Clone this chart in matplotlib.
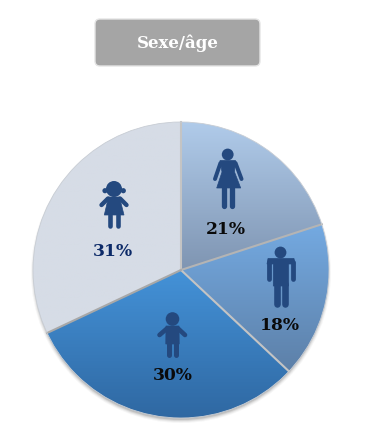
import numpy as np
import matplotlib
matplotlib.use('Agg')
import matplotlib.pyplot as plt
from matplotlib.colors import LinearSegmentedColormap
from matplotlib.patches import Circle, FancyBboxPatch, Polygon

# slices measured on the picture (the printed labels differ by a point or so)
categories = ['Femmes', 'Hommes', 'Enfants', 'Filles']
slice_shares = [20, 17, 31, 32]
value_labels = ['21%', '18%', '30%', '31%']
title_text = 'Sexe/âge'

top_colors = ['#b0cbea', '#74aae2', '#4492d8', '#d6dce6']
bottom_colors = ['#7f95b2', '#5d80a8', '#2f68a2', '#d6dce6']
label_colors = ['#0a0a0a', '#0a0a0a', '#0a0a0a', '#0c2a68']
label_pos = [(226, 229), (280, 326), (173, 375), (113, 252)]
# separator on each slice's first side
line_colors = ['#c4c4c4', '#b4b4b4', '#c4c4c4', '#a8a8a8']

W, H = 370, 438
CX, CY, R = 181, 270, 148
ICON = '#24497f'
LABEL_FONT = 'DejaVu Serif'

fig = plt.figure(figsize=(W / 100, H / 100), dpi=100)
ax = fig.add_axes([0, 0, 1, 1])

# soft shadow under the pie
for grow, alpha in [(3, 0.05), (2, 0.08), (1, 0.12), (0, 0.18)]:
    ax.add_patch(Circle((CX, CY + 3), R + grow - 1, fc='#555555', ec='none', alpha=alpha, zorder=1))

# y axis points down, so counterclock here runs clockwise on screen
wedges, _ = ax.pie(slice_shares, center=(CX, CY), radius=R, startangle=-90,
                   counterclock=True, frame=True, colors=top_colors,
                   wedgeprops={'edgecolor': 'none', 'linewidth': 0, 'zorder': 3})

for wedge, top, bottom, line in zip(wedges, top_colors, bottom_colors, line_colors):
    box = wedge.get_path().get_extents(wedge.get_patch_transform())
    cmap = LinearSegmentedColormap.from_list('slice', [top, bottom])
    grad = np.linspace(0, 1, 200).reshape(-1, 1)
    im = ax.imshow(grad, cmap=cmap, aspect='auto', zorder=2,
                   extent=(box.x0, box.x1, box.y1, box.y0))
    im.set_clip_path(wedge)
    wedge.set_facecolor('none')
    a = np.deg2rad(wedge.theta1)
    ax.plot([CX, CX + R * np.cos(a)], [CY, CY + R * np.sin(a)], color=line, lw=1.5, zorder=3)

# thin pale rim around the pie
ax.add_patch(Circle((CX, CY), R, fc='none', ec='#c8cdd4', lw=0.6, zorder=3))


def limb(x0, y0, x1, y1, width):
    ax.plot([x0, x1], [y0, y1], color=ICON, lw=width * 0.72, solid_capstyle='round', zorder=4)


def shape(points):
    ax.add_patch(Polygon(points, closed=True, fc=ICON, ec=ICON, lw=0.5, zorder=4))


def head(x, y, r):
    ax.add_patch(Circle((x, y), r, fc=ICON, ec='none', zorder=4))


# woman
head(227.7, 154.5, 5.9)
shape([(220, 160.5), (235.5, 160.5), (234.5, 172), (240.7, 188), (216.7, 188), (222, 172)])
limb(220.5, 163, 215, 179, 4)
limb(235.5, 163, 241.5, 179, 4)
limb(224.3, 188, 224.3, 206, 5.3)
limb(232.3, 188, 232.3, 206, 5.3)

# man
head(280.5, 252.5, 5.9)
shape([(268, 258.5), (294, 258.5), (295, 264), (288.5, 264), (288.5, 286), (273.3, 286), (273.3, 264), (267, 264)])
limb(269.2, 262, 269.2, 278.5, 4.8)
limb(292.6, 262, 292.6, 278.5, 4.8)
limb(276.7, 284, 276.7, 303.5, 6.6)
limb(285, 284, 285, 303.5, 6.6)

# boy
head(172.5, 319, 6.8)
shape([(166, 326), (179, 326), (179.2, 344), (165.8, 344)])
limb(167, 328.5, 159.5, 335, 4.6)
limb(178, 328.5, 185, 335, 4.6)
limb(169.2, 344, 169.2, 354.5, 5)
limb(175.8, 344, 175.8, 354.5, 5)

# girl
head(114, 189, 8)
head(105, 190.7, 2.6)
head(123.3, 190.7, 2.6)
shape([(108.5, 197), (119.5, 197), (124, 215), (104.3, 215)])
limb(108, 198.5, 101.5, 205, 4.4)
limb(120, 198.5, 126.5, 205, 4.4)
limb(110.4, 215, 110.4, 226, 4.6)
limb(117.8, 215, 117.8, 226, 4.6)

for pos, lab, col in zip(label_pos, value_labels, label_colors):
    ax.text(pos[0], pos[1], lab, color=col, family=LABEL_FONT, fontweight='bold', fontsize=12.3,
            ha='center', va='center', zorder=5)

# title box
ax.add_patch(FancyBboxPatch((99, 23), 157, 39, boxstyle='round,pad=4,rounding_size=5',
                            fc='#a5a5a5', ec='#e4e4e4', lw=1, zorder=2))
ax.text(177.5, 43, title_text, color='white', family=LABEL_FONT, fontweight='bold', fontsize=12,
        ha='center', va='center', zorder=3)

ax.set_xlim(0, W)
ax.set_ylim(H, 0)
ax.axis('off')

fig.savefig('out.png', dpi=100)
